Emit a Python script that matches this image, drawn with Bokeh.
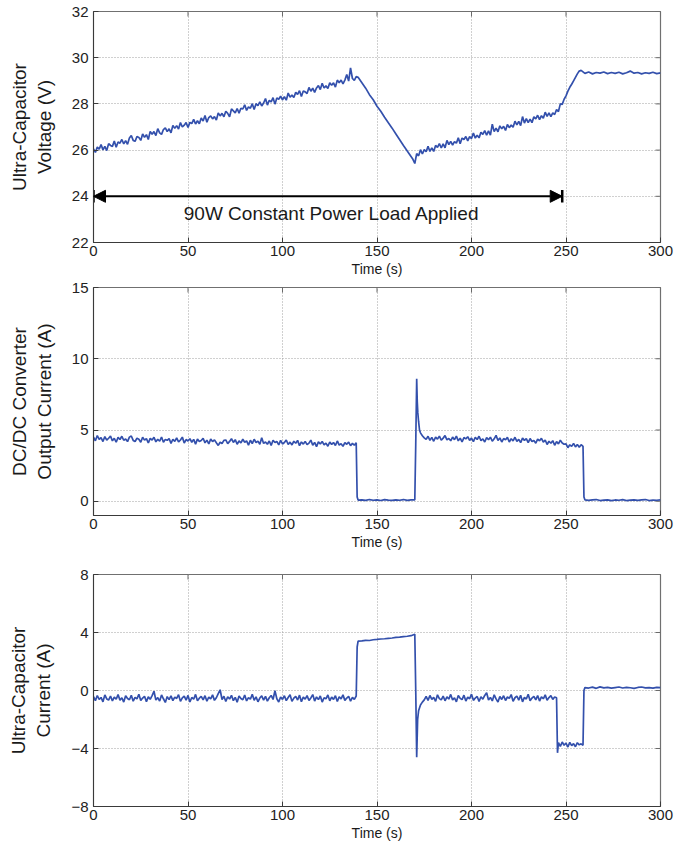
import math
from bokeh.plotting import figure
from bokeh.layouts import column
from bokeh.models import (Range1d, FixedTicker, Arrow, NormalHead, Label,
                          ColumnDataSource)
from bokeh.embed import file_html
from bokeh.resources import INLINE

# ---------------- data ----------------
x_ticks = [0, 50, 100, 150, 200, 250, 300]
v_ticks = [22, 24, 26, 28, 30, 32]
i_dc_ticks = [0, 5, 10, 15]
i_uc_ticks = [-8, -4, 0, 4, 8]

# Ultra-capacitor voltage (V)
v_t = (list(range(0, 140)) + list(range(140, 170, 2)) + [169, 170, 171, 172]
       + list(range(173, 249)) + list(range(249, 259)) + list(range(260, 301, 2)))
v_val = [
    26.05, 25.90, 26.13, 26.04, 26.24, 26.01, 26.16, 25.98, 26.28, 26.20,
    26.16, 26.39, 26.12, 26.35, 26.30, 26.46, 26.27, 26.41, 26.25, 26.52,
    26.63, 26.42, 26.38, 26.59, 26.55, 26.42, 26.70, 26.55, 26.67, 26.46,
    26.81, 26.69, 26.80, 26.63, 26.93, 26.75, 26.68, 26.89, 26.96, 26.80,
    26.92, 26.75, 27.07, 26.94, 27.06, 26.91, 27.19, 27.00, 27.08, 27.19,
    26.98, 27.20, 27.15, 27.33, 27.13, 27.27, 27.14, 27.39, 27.26, 27.50,
    27.21, 27.41, 27.48, 27.35, 27.45, 27.30, 27.61, 27.48, 27.59, 27.44,
    27.68, 27.59, 27.44, 27.78, 27.70, 27.61, 27.80, 27.60, 27.81, 27.78,
    27.96, 27.72, 27.87, 27.81, 28.01, 27.76, 28.01, 27.92, 28.09, 27.91,
    28.04, 28.23, 27.95, 28.15, 28.09, 28.27, 27.99, 28.26, 28.20, 28.33,
    28.18, 28.31, 28.16, 28.47, 28.29, 28.38, 28.28, 28.50, 28.41, 28.57,
    28.32, 28.56, 28.52, 28.45, 28.71, 28.55, 28.68, 28.50, 28.69, 28.79,
    28.62, 28.89, 28.69, 28.78, 28.67, 28.91, 28.81, 28.91, 28.73, 29.03,
    28.92, 29.03, 28.87, 29.03, 29.27, 28.99, 29.56, 29.10, 29.02, 29.18,
    # discharge ramp 140..172
    29.15, 28.92, 28.68, 28.40, 28.18, 27.90, 27.68, 27.42, 27.18, 26.95,
    26.70, 26.45, 26.20, 25.96, 25.72, 25.60, 25.42, 25.85, 25.75,
    # recharge 173..248
    26.02, 25.83, 26.02, 25.93, 26.16, 25.94, 26.10, 25.94, 26.20, 26.12,
    26.28, 26.09, 26.27, 26.10, 26.42, 26.24, 26.38, 26.22, 26.37, 26.30,
    26.53, 26.28, 26.52, 26.46, 26.59, 26.40, 26.58, 26.50, 26.74, 26.52,
    26.64, 26.53, 26.77, 26.68, 26.84, 26.65, 26.83, 26.65, 27.12, 26.80,
    26.95, 26.79, 27.05, 26.92, 27.03, 26.85, 27.11, 26.97, 27.09, 26.99,
    27.25, 27.09, 27.24, 27.06, 27.45, 27.17, 27.36, 27.19, 27.34, 27.19,
    27.44, 27.35, 27.51, 27.32, 27.49, 27.38, 27.64, 27.46, 27.61, 27.45,
    27.61, 27.54, 27.75, 27.67, 28.00, 27.98,
    # fast charge 249..258
    28.20, 28.35, 28.55, 28.72, 28.85, 29.00, 29.15, 29.30, 29.42, 29.45,
    # hold 260..300
    29.32, 29.38, 29.30, 29.36, 29.33, 29.38, 29.31, 29.36, 29.32, 29.37,
    29.30, 29.35, 29.42, 29.33, 29.36, 29.30, 29.35, 29.32, 29.37, 29.31, 29.34]

# DC/DC converter output current (A)
idc_t = (list(range(0, 140)) + [139.5, 140] + list(range(142, 171, 2))
         + [170.5, 171, 171.3, 171.6, 172, 172.5, 173, 174, 175]
         + list(range(176, 259)) + [259, 259.5, 260] + list(range(262, 301, 2)))
idc_val = [
    4.49, 4.24, 4.61, 4.34, 4.47, 4.19, 4.54, 4.29, 4.42, 4.57,
    4.24, 4.42, 4.14, 4.48, 4.33, 4.56, 4.28, 4.37, 4.19, 4.50,
    4.58, 4.27, 4.19, 4.42, 4.35, 4.14, 4.49, 4.29, 4.40, 4.09,
    4.41, 4.30, 4.49, 4.17, 4.35, 4.21, 4.51, 4.14, 4.34, 4.28,
    4.40, 4.06, 4.35, 4.20, 4.44, 4.16, 4.30, 4.50, 4.09, 4.33,
    4.23, 4.39, 4.14, 4.34, 4.01, 4.36, 4.19, 4.26, 4.42, 4.10,
    4.29, 4.02, 4.36, 4.19, 4.31, 4.10, 3.92, 4.14, 4.05, 4.27,
    4.30, 4.04, 4.20, 4.39, 4.13, 4.32, 4.00, 4.23, 4.10, 4.35,
    4.14, 4.24, 3.94, 4.28, 4.05, 4.35, 4.12, 4.22, 4.00, 4.46,
    4.06, 4.16, 4.00, 4.23, 3.92, 4.28, 4.12, 4.20, 3.95, 4.27,
    4.02, 4.12, 4.30, 3.98, 4.15, 3.95, 4.21, 4.07, 4.27, 3.90,
    4.16, 4.01, 4.20, 3.97, 4.08, 4.29, 3.93, 4.13, 3.83, 4.17,
    4.02, 4.20, 3.95, 4.08, 3.86, 4.16, 3.99, 4.12, 3.91, 4.23,
    3.94, 4.04, 3.85, 4.12, 4.00, 4.15, 3.90, 4.06, 3.93, 4.11,
    # converter off 139.5..170
    0.30, 0.08,
    0.10, 0.06, 0.12, 0.07, 0.10, 0.05, 0.11, 0.08, 0.06, 0.10,
    0.07, 0.12, 0.06, 0.09, 0.10,
    # restart spike
    4.00, 8.60, 7.00, 6.20, 5.60, 5.00, 4.80, 4.60, 4.45,
    # 176..258
    4.34, 4.56, 4.27, 4.48,
    4.21, 4.50, 4.36, 4.57, 4.28, 4.43, 4.61, 4.31, 4.41, 4.24,
    4.50, 4.32, 4.57, 4.24, 4.43, 4.16, 4.47, 4.38, 4.53, 4.27,
    4.43, 4.19, 4.49, 4.33, 4.56, 4.26, 4.38, 4.16, 4.47, 4.31,
    4.50, 4.21, 4.38, 4.62, 4.26, 4.44, 4.16, 4.40, 4.32, 4.48,
    4.16, 4.39, 4.24, 4.49, 4.20, 4.34, 4.11, 4.43, 4.27, 4.40,
    4.12, 4.40, 4.19, 4.27, 4.07, 4.36, 4.24, 4.42, 4.15, 4.30,
    3.98, 4.21, 4.07, 4.25, 3.93, 4.18, 4.03, 4.28, 4.09, 4.00,
    4.03, 3.76, 3.96, 3.85, 4.06, 3.81, 3.99, 3.79, 3.97,
    # converter off 259..300
    3.85, 0.30, 0.10,
    0.06, 0.09, 0.12, 0.05, 0.08, 0.10, 0.04, 0.09, 0.07, 0.11,
    0.05, 0.08, 0.10, 0.06, 0.09, 0.12, 0.05, 0.08, 0.07, 0.09]

# Ultra-capacitor current (A)
iuc_t = (list(range(0, 140)) + [139.5, 140] + list(range(142, 171, 2))
         + [170.5, 171, 171.5, 172, 173, 174, 175] + list(range(176, 245))
         + [245, 245.5, 246] + list(range(247, 260)) + [259.5, 260]
         + list(range(262, 301, 2)))
iuc_val = [
    -0.42, -0.70, -0.35, -0.62, -0.48, -0.78, -0.30, -0.58, -0.66, -0.38,
    -0.72, -0.45, -0.60, -0.28, -0.68, -0.50, -0.80, -0.36, -0.55, -0.64,
    -0.33, -0.74, -0.47, -0.58, -0.26, -0.69, -0.52, -0.40, -0.77, -0.44,
    -0.61, -0.35, -0.05, -0.66, -0.49, -0.73, -0.31, -0.57, -0.82, -0.42,
    -0.63, -0.37, -0.70, -0.46, -0.55, -0.29, -0.75, -0.51, -0.39, -0.67,
    -0.34, -0.79, -0.48, -0.60, -0.27, -0.71, -0.53, -0.41, -0.65, -0.36,
    -0.74, -0.45, -0.58, -0.30, -0.68, -0.50, -0.22, 0.05, -0.62, -0.40,
    -0.76, -0.43, -0.59, -0.33, -0.70, -0.47, -0.81, -0.38, -0.55, -0.64,
    -0.31, -0.72, -0.49, -0.60, -0.26, -0.67, -0.44, -0.78, -0.52, -0.37,
    -0.66, -0.41, -0.73, -0.50, -0.34, -0.62, -0.02, -0.57, -0.79, -0.45,
    -0.61, -0.36, -0.70, -0.48, -0.29, -0.75, -0.53, -0.40, -0.66, -0.32,
    -0.77, -0.46, -0.59, -0.35, -0.69, -0.51, -0.28, -0.73, -0.44, -0.63,
    -0.38, -0.80, -0.50, -0.57, -0.31, -0.71, -0.45, -0.62, -0.36, -0.76,
    -0.43, -0.58, -0.30, -0.68, -0.52, -0.40, -0.74, -0.47, -0.61, -0.38,
    # ultra-capacitor supplies the load 139.5..170
    3.00, 3.40,
    3.42, 3.46, 3.45, 3.50, 3.52, 3.55, 3.57, 3.60, 3.62, 3.66,
    3.68, 3.72, 3.74, 3.78, 3.88,
    # converter restart transient
    0.00, -4.60, -2.00, -1.40, -1.00, -0.80, -0.65,
    # 176..244
    -0.40, -0.68, -0.34, -0.61, -0.47, -0.75, -0.30, -0.56, -0.65, -0.38,
    -0.71, -0.44, -0.59, -0.27, -0.66, -0.50, -0.78, -0.35, -0.54, -0.63,
    -0.32, -0.73, -0.46, -0.57, -0.25, -0.68, -0.52, -0.41, -0.76, -0.43,
    -0.60, -0.34, -0.15, -0.65, -0.48, -0.72, -0.30, -0.58, -0.80, -0.41,
    -0.62, -0.36, -0.69, -0.45, -0.54, -0.28, -0.74, -0.50, -0.38, -0.66,
    -0.33, -0.78, -0.47, -0.59, -0.26, -0.70, -0.52, -0.40, -0.64, -0.35,
    -0.73, -0.44, -0.57, -0.30, -0.67, -0.49, -0.36, -0.61, -0.45,
    # fast charge 245..259
    -0.50, -4.30, -3.60,
    -3.85, -3.55, -3.78, -3.62, -3.90, -3.58, -3.80, -3.66, -3.88, -3.60,
    -3.75, -3.68, -3.78,
    # hold
    0.00, 0.20,
    0.17, 0.23, 0.15, 0.25, 0.18, 0.22, 0.16, 0.20, 0.24, 0.17,
    0.22, 0.19, 0.15, 0.21, 0.24, 0.18, 0.20, 0.16, 0.22, 0.20]

# annotation on the voltage plot
load_span = [0, 248]          # time span of the 90 W constant power load (s)
load_level = 24               # voltage level where the arrow is drawn
bar_half = 0.27
load_text = "90W Constant Power Load Applied"
load_text_pos = (126, 23.25)

# ---------------- styling ----------------
FONT = "Liberation Sans"
BLUE = "#3350AC"
TICK_COL = "#6a6a6a"


def make_fig(y_range, y_ticks, y_label, frame_h, top, bottom):
    p = figure(frame_width=567, frame_height=frame_h,
               x_range=Range1d(0, 300), y_range=Range1d(*y_range),
               output_backend="svg", toolbar_location=None,
               min_border_left=93, min_border_right=16,
               min_border_top=top, min_border_bottom=bottom)
    p.background_fill_color = "white"
    p.border_fill_color = "white"
    p.outline_line_color = "#707070"
    p.outline_line_width = 1.2

    for ax, ticks in ((p.xaxis[0], x_ticks), (p.yaxis[0], y_ticks)):
        ax.ticker = FixedTicker(ticks=ticks)
        ax.major_tick_in = 5
        ax.major_tick_out = 0
        ax.minor_tick_line_color = None
        ax.axis_line_color = "#3a3a3a"
        ax.major_tick_line_color = "#3a3a3a"
        ax.major_label_text_font = FONT
        ax.major_label_text_font_size = "15px"
        ax.major_label_text_color = "#222222"
        ax.axis_label_text_font = FONT
        ax.axis_label_text_font_style = "normal"
        ax.axis_label_text_color = "#1a1a1a"

    p.xaxis[0].axis_label = "Time (s)"
    p.xaxis[0].axis_label_text_font_size = "14px"
    p.xaxis[0].axis_label_standoff = 2
    p.xaxis[0].major_label_standoff = 3
    p.yaxis[0].axis_label = y_label
    p.yaxis[0].axis_label_text_font_size = "19px"
    p.yaxis[0].axis_label_standoff = 14
    p.yaxis[0].major_label_standoff = 5

    # mirrored inward ticks on the top and right edges (clipped to the frame)
    y0, y1 = y_range
    p.scatter(x_ticks, [y1] * len(x_ticks), marker="dash", size=10,
              angle=math.pi / 2, line_color=TICK_COL, line_width=1)
    p.scatter([300] * len(y_ticks), y_ticks, marker="dash", size=10,
              line_color=TICK_COL, line_width=1)

    p.xgrid.ticker = FixedTicker(ticks=x_ticks)
    p.ygrid.ticker = FixedTicker(ticks=y_ticks)
    for g in (p.xgrid[0], p.ygrid[0]):
        g.grid_line_color = "#a0a0a0"
        g.grid_line_dash = "1 2"
        g.grid_line_width = 1
    return p


p1 = make_fig((22, 32), v_ticks, "Ultra-Capacitor\nVoltage (V)", 231, 11, 36)
p1.line(v_t, v_val, line_color=BLUE, line_width=1.7)
p1.add_layout(Arrow(x_start=load_span[0], y_start=load_level,
                    x_end=load_span[1], y_end=load_level,
                    line_color="black", line_width=2,
                    start=NormalHead(size=12, fill_color="black", line_color="black"),
                    end=NormalHead(size=12, fill_color="black", line_color="black")))
bars = ColumnDataSource(dict(x=load_span,
                             y0=[load_level - bar_half] * 2,
                             y1=[load_level + bar_half] * 2))
p1.segment(x0="x", y0="y0", x1="x", y1="y1", source=bars,
           line_color="black", line_width=2.5)
p1.add_layout(Label(x=load_text_pos[0], y=load_text_pos[1], text=load_text,
                    text_align="center", text_baseline="middle",
                    text_font=FONT, text_font_size="19px", text_color="#1a1a1a"))

p2 = make_fig((-1, 15), i_dc_ticks, "DC/DC Converter\nOutput Current (A)", 228, 8, 45)
p2.line(idc_t, idc_val, line_color=BLUE, line_width=1.7)

p3 = make_fig((-8, 8), i_uc_ticks, "Ultra-Capacitor\nCurrent (A)", 232, 14, 40)
p3.line(iuc_t, iuc_val, line_color=BLUE, line_width=1.7)

layout = column(p1, p2, p3, spacing=0)
open("out.html", "w").write(file_html(layout, INLINE))
